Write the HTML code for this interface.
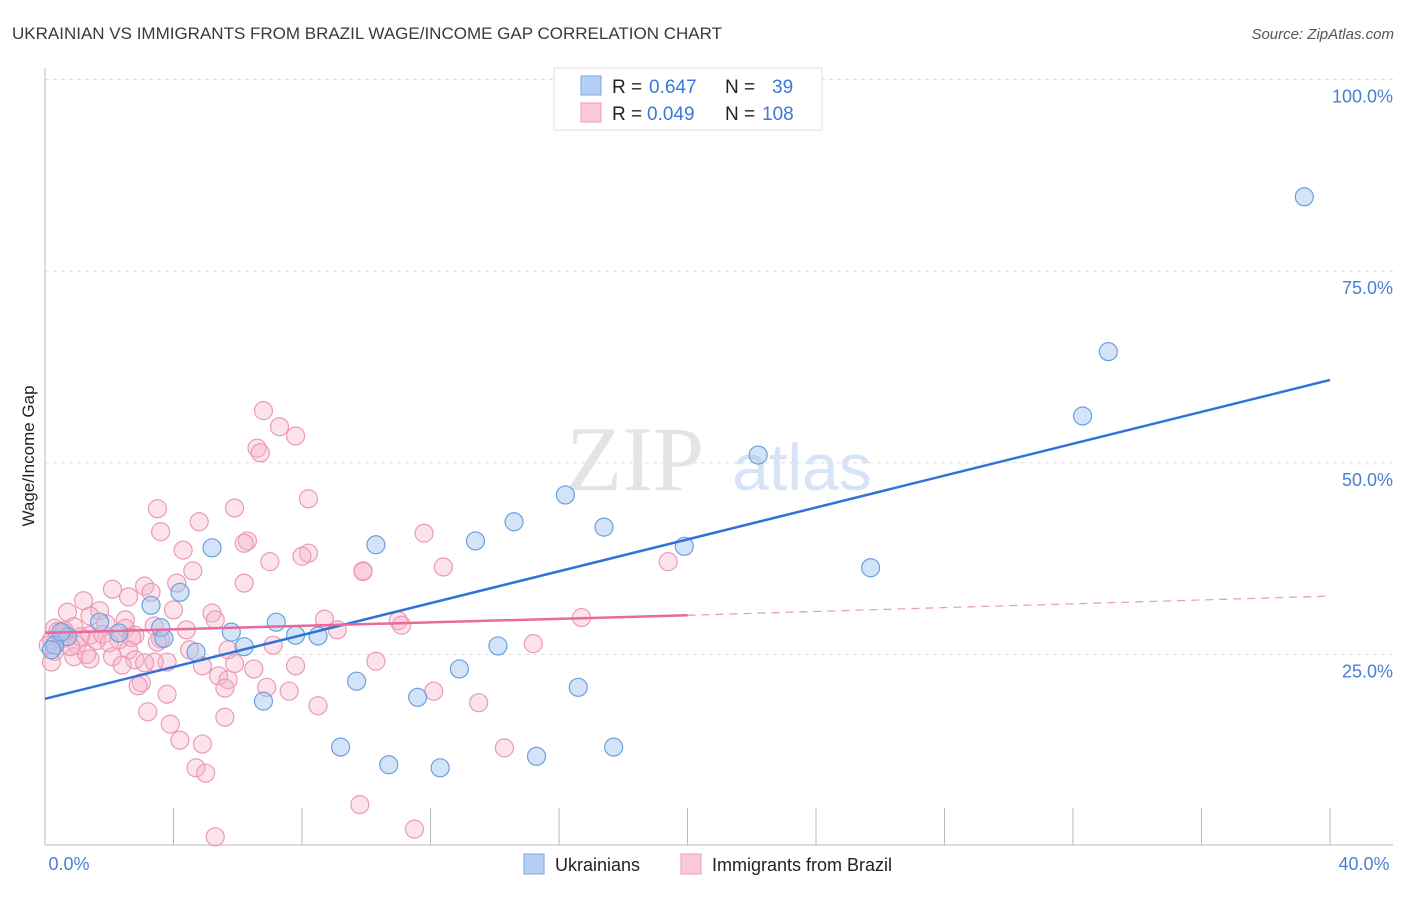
<!DOCTYPE html>
<html><head><meta charset="utf-8">
<style>
body{margin:0;background:#fff;font-family:"Liberation Sans",sans-serif;}
svg text{font-family:"Liberation Sans",sans-serif;}
</style></head>
<body>
<svg id="chart" width="1406" height="892" viewBox="0 0 1406 892" xmlns="http://www.w3.org/2000/svg">
<text x="12" y="39" font-size="17" fill="#3a3a3a">UKRAINIAN VS IMMIGRANTS FROM BRAZIL WAGE/INCOME GAP CORRELATION CHART</text>
<text x="1394" y="39" font-size="15" fill="#555" font-style="italic" text-anchor="end">Source: ZipAtlas.com</text>
<g id="grid"></g>
<g>
<text x="635" y="490" font-size="92" fill="#e4e4e4" font-family="Liberation Serif" text-anchor="middle" style="font-family:'Liberation Serif',serif">ZIP</text>
<text x="802" y="490" font-size="66" fill="#d6e4f6" text-anchor="middle">atlas</text>
</g>
<line x1="45" y1="68" x2="45" y2="845" stroke="#bbb"/>
<line x1="45" y1="845" x2="1393" y2="845" stroke="#bbb"/>
<g id="xticks"></g>
<g id="yticks"></g>
<g id="pink"></g>
<g id="blue"></g>
<g id="trends"></g>
<text x="69" y="870" font-size="18" fill="#4a7fd0" text-anchor="middle">0.0%</text>
<text x="1364" y="870" font-size="18" fill="#4a7fd0" text-anchor="middle">40.0%</text>
<text transform="translate(34,456) rotate(-90)" font-size="17" fill="#222" text-anchor="middle">Wage/Income Gap</text>
<g>
<rect x="554" y="68" width="268" height="62" fill="#fff" stroke="#ddd"/>
<rect x="581" y="76" width="20" height="19" fill="#b5d0f4" stroke="#7aa7e0"/>
<rect x="581" y="103" width="20" height="19" fill="#fbc9d8" stroke="#ec9db7"/>
<text x="612" y="93" font-size="19" fill="#222">R = </text><text x="649" y="93" font-size="19" fill="#3b78d8">0.647</text>
<text x="725" y="93" font-size="19" fill="#222">N = </text><text x="772" y="93" font-size="19" fill="#3b78d8">39</text>
<text x="612" y="120" font-size="19" fill="#222">R = </text><text x="647" y="120" font-size="19" fill="#3b78d8">0.049</text>
<text x="725" y="120" font-size="19" fill="#222">N = </text><text x="762" y="120" font-size="19" fill="#3b78d8">108</text>
</g>
<g>
<rect x="524" y="854" width="20" height="20" fill="#b5d0f4" stroke="#7aa7e0"/>
<text x="555" y="871" font-size="18" fill="#222">Ukrainians</text>
<rect x="681" y="854" width="20" height="20" fill="#fbc9d8" stroke="#ec9db7"/>
<text x="712" y="871" font-size="18" fill="#222">Immigrants from Brazil</text>
</g>
</svg>
<script>
const yTickValues=[25,50,75,100];
const yTickLabels=["25.0%","50.0%","75.0%","100.0%"];
const xTickValues=[4,8,12,16,20,24,28,32,36,40];
const blueX=[39.2,33.1,32.3,22.2,16.2,14.6,17.4,13.4,19.9,10.3,5.2,25.7,4.2,3.3,7.2,1.7,3.6,2.3,5.8,7.8,8.5,3.7,0.7,0.3,0.2,6.2,4.7,14.1,12.9,9.7,16.6,11.6,6.8,9.2,17.7,15.3,10.7,12.3,0.5];
const blueY=[84.7,64.5,56.1,51.0,45.8,42.3,41.6,39.8,39.1,39.3,38.9,36.3,33.1,31.4,29.2,29.2,28.5,27.8,27.9,27.5,27.4,27.1,27.3,26.2,25.6,26.0,25.3,26.1,23.1,21.5,20.7,19.4,18.9,12.9,12.9,11.7,10.6,10.2,27.9];
const pinkX=[6.8,7.3,7.8,6.6,6.7,8.2,3.5,5.9,4.8,3.6,11.8,6.3,6.2,4.3,8.2,8.0,7.0,19.4,12.4,4.6,9.9,9.9,6.2,4.1,2.1,3.1,3.3,2.6,1.2,4.0,0.7,1.7,5.2,5.3,2.5,1.4,8.7,16.7,11.0,11.1,0.3,0.9,1.9,2.5,3.4,4.4,9.1,0.6,1.4,2.8,3.6,0.2,1.6,1.1,2.3,0.1,1.0,7.1,15.2,2.6,4.5,5.7,0.3,2.1,0.9,1.4,2.8,0.2,3.8,3.4,10.3,3.1,2.4,4.9,5.9,7.8,6.5,5.4,5.7,3.0,2.9,5.6,6.9,7.6,12.1,3.8,13.5,8.5,3.2,5.6,3.9,4.2,4.9,14.3,4.7,5.0,9.8,11.5,5.3,0.5,1.8,2.0,0.4,1.3,0.8,2.7,3.5,0.6];
const pinkY=[56.8,54.7,53.5,51.9,51.3,45.3,44.0,44.1,42.3,41.0,40.8,39.8,39.5,38.6,38.2,37.8,37.1,37.1,36.4,35.9,35.9,35.8,34.3,34.3,33.5,33.9,33.1,32.5,32.0,30.8,30.5,30.7,30.4,29.5,29.5,30.0,29.6,29.8,29.4,28.8,28.4,28.6,29.0,28.4,28.7,28.2,28.2,27.8,27.5,27.5,27.0,26.9,26.8,27.3,26.9,26.2,26.2,26.2,26.4,25.6,25.6,25.6,25.4,24.7,24.7,24.4,24.3,24.0,24.0,24.0,24.1,23.9,23.6,23.5,23.8,23.5,23.1,22.2,21.7,21.3,20.9,20.6,20.7,20.2,20.2,19.8,18.7,18.3,17.5,16.8,15.9,13.8,13.3,12.8,10.2,9.5,5.4,2.2,1.2,27.0,27.6,26.5,28.0,25.0,26.0,27.2,26.6,28.1];
const blueTrendX=[0,40];const blueTrendY=[19.2,60.8];
const pinkTrendX=[0,20,40];const pinkTrendY=[27.8,30.1,32.6];
const X=v=>45+v/40*1285, Y=v=>846-v/100*766.5;
const NS="http://www.w3.org/2000/svg";
function mk(tag,attrs,parent){const e=document.createElementNS(NS,tag);for(const k in attrs)e.setAttribute(k,attrs[k]);document.getElementById(parent).appendChild(e);return e;}
yTickValues.forEach((v,i)=>{
 const g=mk('line',{x1:45,x2:1393,y1:Y(v),y2:Y(v),stroke:'#ddd','stroke-dasharray':'4,4'},'grid');
 
 
 const t=mk('text',{x:1393,y:Y(v)+23,'font-size':18,fill:'#4a7fd0','text-anchor':'end'},'yticks');
 t.textContent=yTickLabels[i];
 
 
});
xTickValues.forEach(v=>{
 const l=mk('line',{x1:X(v),x2:X(v),y1:808,y2:845,stroke:'#bbb'},'xticks');
 
 
});
pinkX.forEach((x,i)=>{
 const c=mk('circle',{cx:X(x),cy:Y(pinkY[i]),r:9,fill:'rgba(248,180,202,0.38)',stroke:'#eb9ab5','stroke-width':1.2},'pink');
 
 
});
blueX.forEach((x,i)=>{
 const c=mk('circle',{cx:X(x),cy:Y(blueY[i]),r:9,fill:'rgba(160,196,240,0.45)',stroke:'#6b9fde','stroke-width':1.2},'blue');
 
 
});
const bt=mk('line',{x1:X(blueTrendX[0]),y1:Y(blueTrendY[0]),x2:X(blueTrendX[1]),y2:Y(blueTrendY[1]),stroke:'#2f73d9','stroke-width':2.5},'trends');


const pt=mk('line',{x1:X(pinkTrendX[0]),y1:Y(pinkTrendY[0]),x2:X(pinkTrendX[1]),y2:Y(pinkTrendY[1]),stroke:'#e8699a','stroke-width':2.5},'trends');


const pd=mk('line',{x1:X(pinkTrendX[1]),y1:Y(pinkTrendY[1]),x2:X(pinkTrendX[2]),y2:Y(pinkTrendY[2]),stroke:'#e8a0ba','stroke-width':1.3,'stroke-dasharray':'8,6'},'trends');


</script>
</body></html>
